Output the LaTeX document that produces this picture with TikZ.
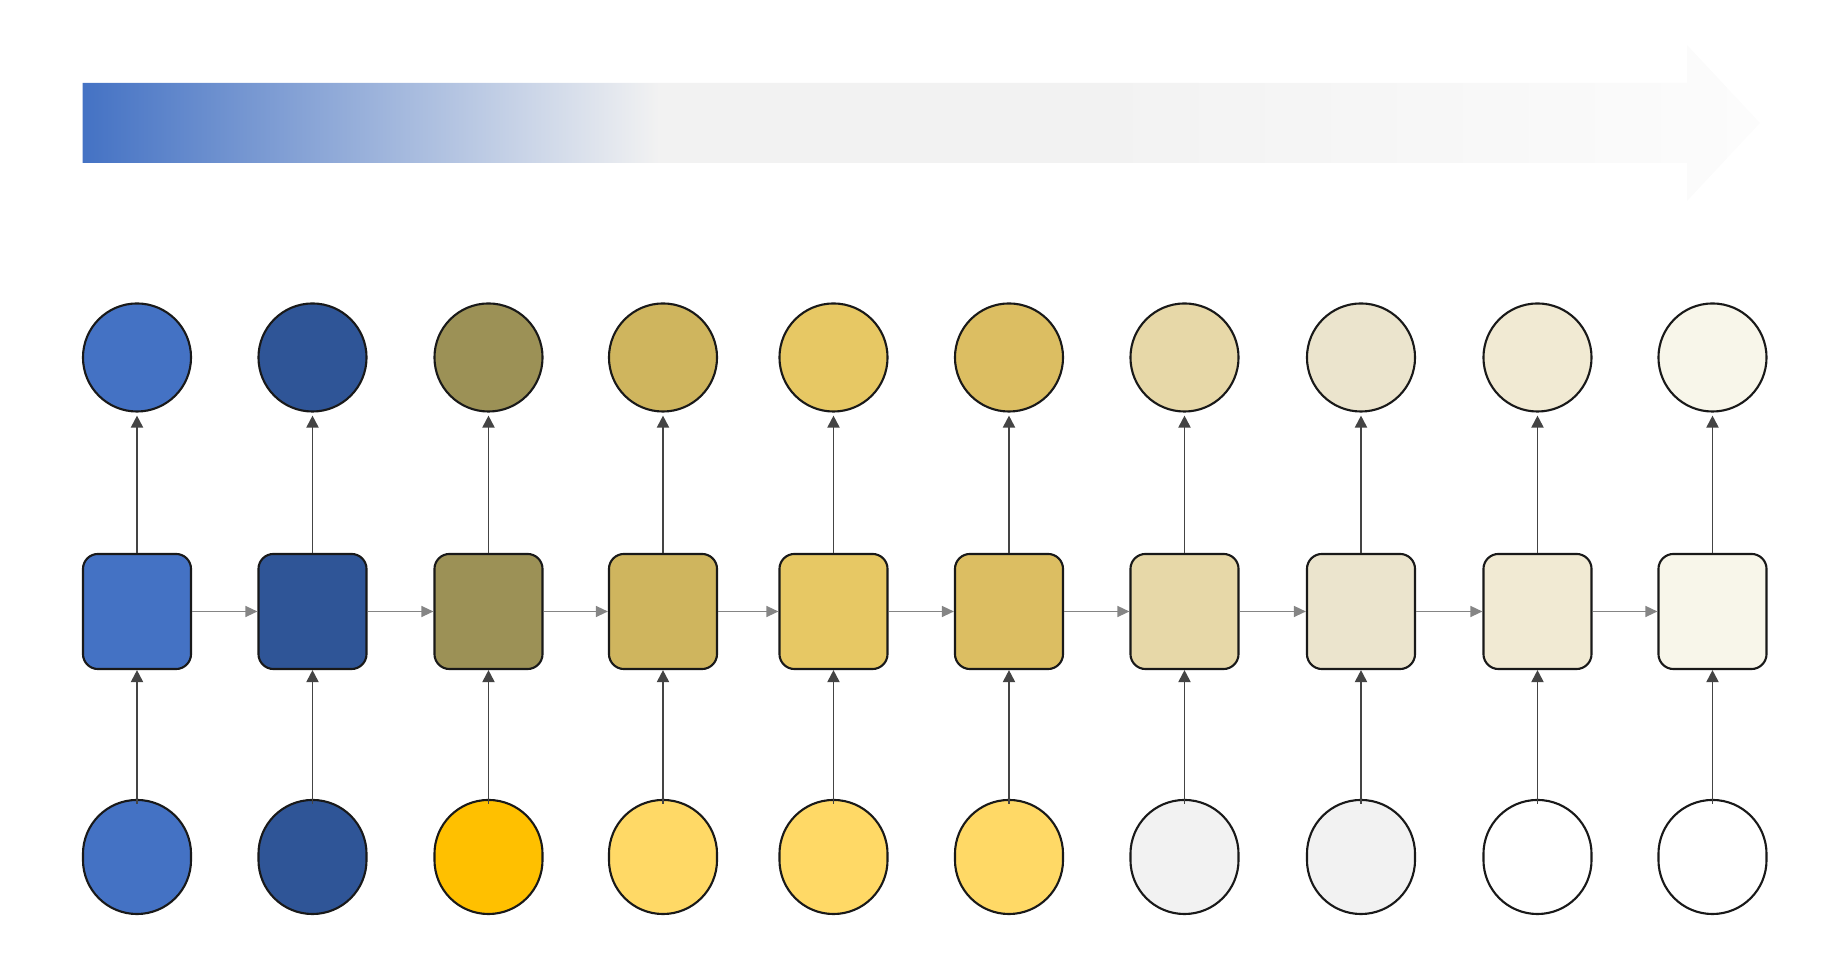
\documentclass[tikz,border=0pt]{standalone}
\usetikzlibrary{arrows.meta}

% Colours
\definecolor{cellA}{HTML}{4472C4}
\definecolor{cellB}{HTML}{2F5597}
\definecolor{cellC}{HTML}{9C9156}
\definecolor{cellD}{HTML}{CFB55E}
\definecolor{cellE}{HTML}{E7C864}
\definecolor{cellF}{HTML}{DCBE62}
\definecolor{cellG}{HTML}{E7D8A8}
\definecolor{cellH}{HTML}{EBE4CD}
\definecolor{cellI}{HTML}{F1EAD3}
\definecolor{cellJ}{HTML}{F8F6EA}
\definecolor{inamber}{HTML}{FFC000}
\definecolor{inyellow}{HTML}{FFD966}
\definecolor{ingray}{HTML}{F2F2F2}
\definecolor{darkline}{HTML}{444444}
\definecolor{stepgray}{HTML}{858585}
\definecolor{barblue}{HTML}{4472C4}
\definecolor{bargray}{HTML}{F2F2F2}
\definecolor{barend}{HTML}{FCFCFC}

\pgfdeclarehorizontalshading{timeshade}{100bp}{color(0bp)=(barblue); color(25bp)=(barblue); color(42.2bp)=(bargray); color(55.3bp)=(bargray); color(75bp)=(barend); color(100bp)=(barend)}

\begin{document}
\begin{tikzpicture}[x=0.01cm,y=-0.01cm,
    % Define Styles
    outnode/.style={
        circle,
        draw=black!90,
        line width=0.6pt,
        minimum size=1.08cm,
        inner sep=0pt
    },
    cellnode/.style={
        rectangle,
        rounded corners=0.15cm,
        draw=black!90,
        line width=0.6pt,
        minimum width=1.08cm,
        minimum height=1.15cm,
        inner sep=0pt
    },
    innode/.style={
        rectangle,
        rounded corners=0.54cm,
        draw=black!90,
        line width=0.6pt,
        minimum width=1.08cm,
        minimum height=1.14cm,
        inner sep=0pt
    },
    uparrow/.style={
        draw=darkline,
        line width=0.55pt,
        -{Triangle[length=0.12cm,width=0.12cm]}
    },
    steparrow/.style={
        draw=stepgray,
        line width=0.4pt,
        -{Triangle[length=0.12cm,width=0.11cm]}
    }
    ]

    \useasboundingbox (0,0) rectangle (1847,962);

    % Time arrow
    \shade[shading=timeshade] (82.5,83) -- (1687,83) -- (1687,45) -- (1760,123)
        -- (1687,201) -- (1687,163) -- (82.5,163) -- cycle;

    % Output nodes
    \node[outnode, fill=cellA] (y1) at (137,357.5) {};
    \node[outnode, fill=cellB] (y2) at (312.5,357.5) {};
    \node[outnode, fill=cellC] (y3) at (488.5,357.5) {};
    \node[outnode, fill=cellD] (y4) at (663,357.5) {};
    \node[outnode, fill=cellE] (y5) at (833.5,357.5) {};
    \node[outnode, fill=cellF] (y6) at (1009,357.5) {};
    \node[outnode, fill=cellG] (y7) at (1184.5,357.5) {};
    \node[outnode, fill=cellH] (y8) at (1361,357.5) {};
    \node[outnode, fill=cellI] (y9) at (1537.5,357.5) {};
    \node[outnode, fill=cellJ] (y10) at (1712.5,357.5) {};

    % Cell nodes
    \node[cellnode, fill=cellA] (h1) at (137,611.5) {};
    \node[cellnode, fill=cellB] (h2) at (312.5,611.5) {};
    \node[cellnode, fill=cellC] (h3) at (488.5,611.5) {};
    \node[cellnode, fill=cellD] (h4) at (663,611.5) {};
    \node[cellnode, fill=cellE] (h5) at (833.5,611.5) {};
    \node[cellnode, fill=cellF] (h6) at (1009,611.5) {};
    \node[cellnode, fill=cellG] (h7) at (1184.5,611.5) {};
    \node[cellnode, fill=cellH] (h8) at (1361,611.5) {};
    \node[cellnode, fill=cellI] (h9) at (1537.5,611.5) {};
    \node[cellnode, fill=cellJ] (h10) at (1712.5,611.5) {};

    % Input nodes
    \node[innode, fill=cellA] (x1) at (137,857) {};
    \node[innode, fill=cellB] (x2) at (312.5,857) {};
    \node[innode, fill=inamber] (x3) at (488.5,857) {};
    \node[innode, fill=inyellow] (x4) at (663,857) {};
    \node[innode, fill=inyellow] (x5) at (833.5,857) {};
    \node[innode, fill=inyellow] (x6) at (1009,857) {};
    \node[innode, fill=ingray] (x7) at (1184.5,857) {};
    \node[innode, fill=ingray] (x8) at (1361,857) {};
    \node[innode, fill=white] (x9) at (1537.5,857) {};
    \node[innode, fill=white] (x10) at (1712.5,857) {};

    % Cell to output
    \draw[uparrow, shorten >=0.03cm] (h1.north) -- (y1.south);
    \draw[uparrow, shorten >=0.03cm] (h2.north) -- (y2.south);
    \draw[uparrow, shorten >=0.03cm] (h3.north) -- (y3.south);
    \draw[uparrow, shorten >=0.03cm] (h4.north) -- (y4.south);
    \draw[uparrow, shorten >=0.03cm] (h5.north) -- (y5.south);
    \draw[uparrow, shorten >=0.03cm] (h6.north) -- (y6.south);
    \draw[uparrow, shorten >=0.03cm] (h7.north) -- (y7.south);
    \draw[uparrow, shorten >=0.03cm] (h8.north) -- (y8.south);
    \draw[uparrow, shorten >=0.03cm] (h9.north) -- (y9.south);
    \draw[uparrow, shorten >=0.03cm] (h10.north) -- (y10.south);

    % Input to cell
    \draw[uparrow] ([yshift=-0.05cm]x1.north) -- (h1.south);
    \draw[uparrow] ([yshift=-0.05cm]x2.north) -- (h2.south);
    \draw[uparrow] ([yshift=-0.05cm]x3.north) -- (h3.south);
    \draw[uparrow] ([yshift=-0.05cm]x4.north) -- (h4.south);
    \draw[uparrow] ([yshift=-0.05cm]x5.north) -- (h5.south);
    \draw[uparrow] ([yshift=-0.05cm]x6.north) -- (h6.south);
    \draw[uparrow] ([yshift=-0.05cm]x7.north) -- (h7.south);
    \draw[uparrow] ([yshift=-0.05cm]x8.north) -- (h8.south);
    \draw[uparrow] ([yshift=-0.05cm]x9.north) -- (h9.south);
    \draw[uparrow] ([yshift=-0.05cm]x10.north) -- (h10.south);

    % Cell to cell
    \draw[steparrow] (h1.east) -- (h2.west);
    \draw[steparrow] (h2.east) -- (h3.west);
    \draw[steparrow] (h3.east) -- (h4.west);
    \draw[steparrow] (h4.east) -- (h5.west);
    \draw[steparrow] (h5.east) -- (h6.west);
    \draw[steparrow] (h6.east) -- (h7.west);
    \draw[steparrow] (h7.east) -- (h8.west);
    \draw[steparrow] (h8.east) -- (h9.west);
    \draw[steparrow] (h9.east) -- (h10.west);

\end{tikzpicture}
\end{document}
